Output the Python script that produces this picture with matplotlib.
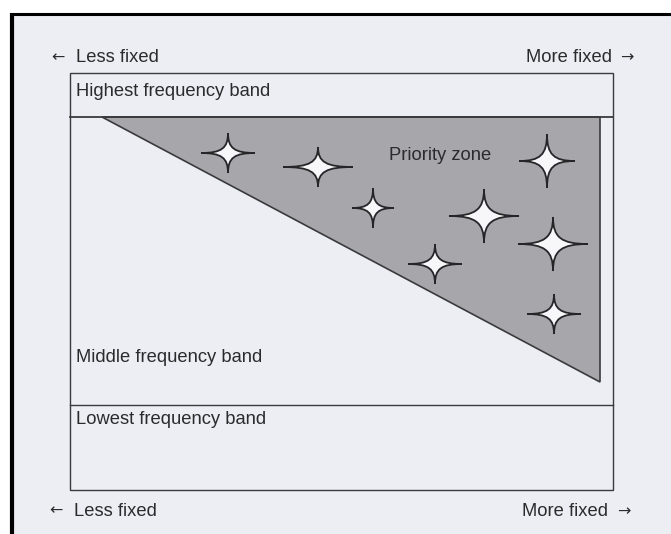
import matplotlib
matplotlib.use("Agg")
import matplotlib.pyplot as plt
from matplotlib.path import Path
from matplotlib.patches import PathPatch, Polygon, Rectangle

# ---- content ----
band_labels = ["Highest frequency band", "Middle frequency band", "Lowest frequency band"]
left_label = "Less fixed"
right_label = "More fixed"
left_arrow = "\u2190"
right_arrow = "\u2192"
zone_label = "Priority zone"

# stars in the priority zone (centre x, centre y, half width, half height) in diagram units
star_x = [228, 318, 373, 547, 484, 553, 435, 554]
star_y = [153, 167, 208, 161, 216, 244, 264, 314]
star_a = [27, 35, 21, 28, 35, 35, 27, 27]
star_b = [20, 20, 20, 27, 27, 27, 20, 20]

W, H = 671, 534
bg = "#eceef3"
line_c = "#3a3a3d"
text_c = "#2b2b2e"
tri_c = "#a6a6ab"
fam = ["Liberation Sans", "DejaVu Sans"]
fs = 13.2

fig = plt.figure(figsize=(W / 100, H / 100), dpi=100)
fig.patch.set_facecolor("white")
ax = fig.add_axes([0, 0, 1, 1])
ax.set_xlim(0, W)
ax.set_ylim(H, 0)
ax.axis("off")

# paper background and black frame
ax.add_patch(Rectangle((11, 13), W - 11, H - 13, facecolor=bg, edgecolor="none", zorder=0))
ax.plot([12, 12], [13, H], color="black", lw=3.0, solid_capstyle="butt", zorder=5)
ax.plot([10, W], [14, 14], color="black", lw=2.2, solid_capstyle="butt", zorder=5)

# main box
bx0, bx1, by0, by1 = 70, 613, 73, 490
ax.add_patch(Rectangle((bx0, by0), bx1 - bx0, by1 - by0, facecolor="none",
                       edgecolor=line_c, lw=1.0, zorder=3))
ax.plot([bx0, bx1], [117, 117], color=line_c, lw=1.3, zorder=3)
ax.plot([bx0, bx1], [405, 405], color=line_c, lw=1.0, zorder=3)

# priority zone triangle
tri = Polygon([(102, 117), (600, 117), (600, 382)], closed=True,
              facecolor=tri_c, edgecolor=line_c, lw=1.2, zorder=2)
ax.add_patch(tri)

# stars: four-pointed, concave sides
def star_path(cx, cy, a, b, k=0.24):
    tips = [(a, 0), (0, b), (-a, 0), (0, -b)]
    verts = [(cx + a, cy)]
    codes = [Path.MOVETO]
    for i in range(4):
        x0, y0 = tips[i]
        x1, y1 = tips[(i + 1) % 4]
        verts += [(cx + k * x0, cy + k * y0), (cx + k * x1, cy + k * y1), (cx + x1, cy + y1)]
        codes += [Path.CURVE4] * 3
    verts.append((cx + a, cy))
    codes.append(Path.CLOSEPOLY)
    return Path(verts, codes)

for cx, cy, a, b in zip(star_x, star_y, star_a, star_b):
    ax.add_patch(PathPatch(star_path(cx, cy, a, b), facecolor="#f7f7fa",
                           edgecolor="#262628", lw=1.3, zorder=4))

# texts
kw = dict(family=fam, fontsize=fs, color=text_c, va="center")
akw = dict(family="DejaVu Sans", fontsize=11.5, color=text_c, va="center")
ax.text(51, 58, left_arrow, ha="left", **akw)
ax.text(76, 58, left_label, ha="left", **kw)
ax.text(633, 58, right_arrow, ha="right", **akw)
ax.text(612, 58, right_label, ha="right", **kw)
ax.text(76, 91, band_labels[0], ha="left", **kw)
ax.text(76, 358, band_labels[1], ha="left", **kw)
ax.text(76, 420, band_labels[2], ha="left", **kw)
ax.text(389, 156, zone_label, ha="left", zorder=5, **kw)
ax.text(49, 511, left_arrow, ha="left", **akw)
ax.text(74, 511, left_label, ha="left", **kw)
ax.text(630, 512, right_arrow, ha="right", **akw)
ax.text(608, 512, right_label, ha="right", **kw)

fig.savefig("out.png", dpi=100, facecolor="white")
